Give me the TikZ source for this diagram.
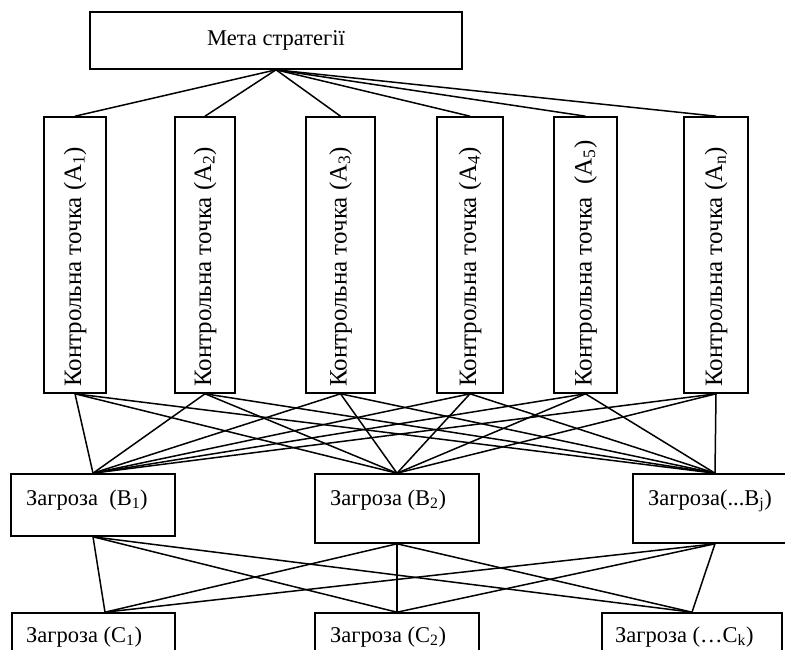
\documentclass[tikz,border=0pt]{standalone}
\usepackage{fontspec}
\setmainfont{Liberation Serif}
\begin{document}
\begin{tikzpicture}[x=1pt,y=-1pt,
  box/.style={draw,line width=1.6pt,rectangle,inner sep=0pt},
  abox/.style={box,minimum height=276pt},
  bbox/.style={box,minimum width=164pt},
  htext/.style={inner sep=0pt,anchor=base west,font=\fontsize{22.5}{27}\selectfont},
  vtext/.style={inner sep=0pt,rotate=90,anchor=west,font=\fontsize{25}{30}\selectfont},
  link/.style={line width=1.5pt}]
\useasboundingbox (0,0) rectangle (785,650);
\clip (0,0) rectangle (785,650);
% goal
\node[box,minimum width=372pt,minimum height=57pt,font=\fontsize{22.5}{27}\selectfont] (goal) at (276,40.5) {Мета стратегії};
% control points
\node[abox,minimum width=62pt] (A1) at (75,255) {};
\node[abox,minimum width=60pt] (A2) at (205,255) {};
\node[abox,minimum width=69pt] (A3) at (340.5,255) {};
\node[abox,minimum width=66pt] (A4) at (470,255) {};
\node[abox,minimum width=63pt] (A5) at (585.5,255) {};
\node[abox,minimum width=64pt] (An) at (716,255) {};
\node[vtext] (tA1) at (75,387) {Контрольна точка (A\textsubscript{1})};
\node[vtext] (tA2) at (205,387) {Контрольна точка (A\textsubscript{2})};
\node[vtext] (tA3) at (340.5,387) {Контрольна точка (A\textsubscript{3})};
\node[vtext] (tA4) at (470,387) {Контрольна точка (A\textsubscript{4})};
\node[vtext] (tA5) at (585.5,387) {Контрольна точка \ (A\textsubscript{5})};
\node[vtext] (tAn) at (716,387) {Контрольна точка (A\textsubscript{n})};
% threats B
\node[bbox,minimum height=62pt] (B1) at (93,505) {};
\node[bbox,minimum height=69pt] (B2) at (397,508.5) {};
\node[bbox,minimum height=69pt] (Bj) at (715,508.5) {};
\node[htext] (tB1) at (26,505) {Загроза \ (B\textsubscript{1})};
\node[htext] (tB2) at (330,505) {Загроза (B\textsubscript{2})};
\node[htext] (tBj) at (648,505) {Загроза(...B\textsubscript{j})};
% threats C
\node[box,minimum width=163pt,minimum height=60pt] (C1) at (93.5,643) {};
\node[box,minimum width=164pt,minimum height=60pt] (C2) at (397,643) {};
\node[box,minimum width=180pt,minimum height=60pt] (Ck) at (692,643) {};
\node[htext] (tC1) at (26,642) {Загроза (C\textsubscript{1})};
\node[htext] (tC2) at (330,642) {Загроза (C\textsubscript{2})};
\node[htext] (tCk) at (615,642) {Загроза (…C\textsubscript{k})};
% coordinates
\coordinate (c1top) at ([xshift=11.5pt]C1.north);
% goal to A
\foreach \a in {A1,A2,A3,A4,A5,An}
  \draw[link] (goal.south) -- (\a.north);
% A to B
\foreach \a in {A1,A2,A3,A4,A5,An}
  \foreach \b in {B1,B2,Bj}
    \draw[link] (\a.south) -- (\b.north);
% B to C
\foreach \b in {B1,B2,Bj}{
  \draw[link] (\b.south) -- (c1top);
  \draw[link] (\b.south) -- (C2.north);
  \draw[link] (\b.south) -- (Ck.north);
}
\end{tikzpicture}
\end{document}
